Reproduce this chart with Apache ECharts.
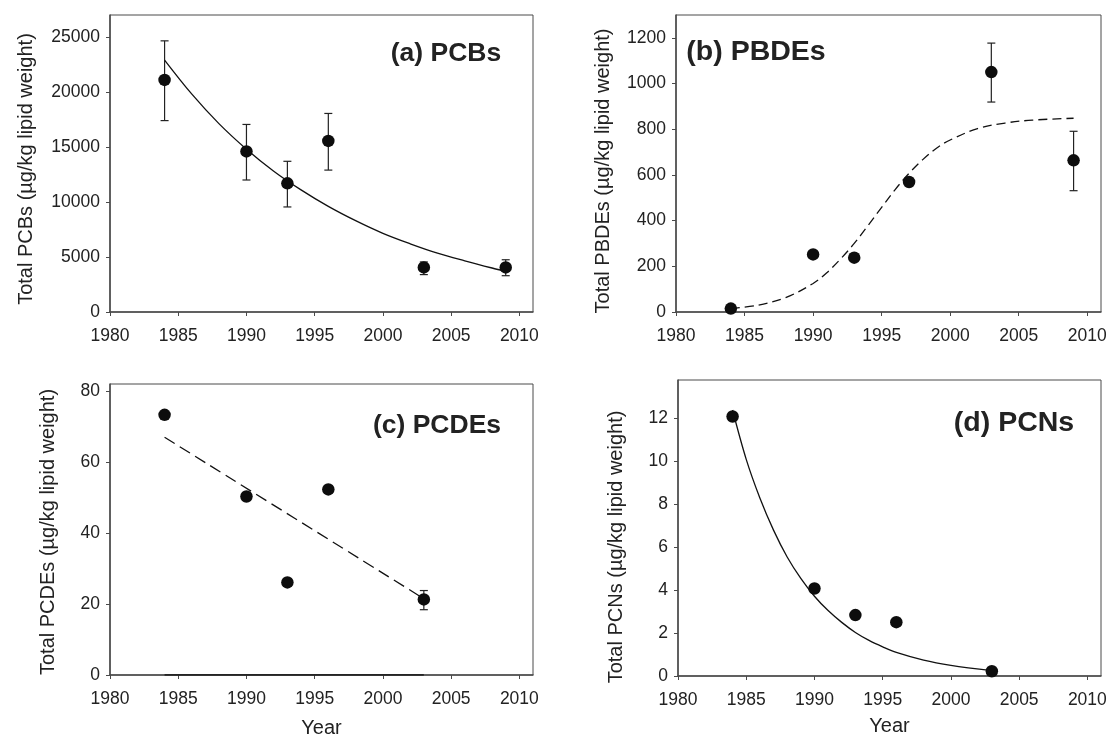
<!DOCTYPE html>
<html>
<head>
<meta charset="utf-8">
<script src="https://cdn.jsdelivr.net/npm/echarts@6/dist/echarts.min.js"></script>
<style>
html,body{margin:0;padding:0;background:#fff;}
#chart{width:1114px;height:739px;}
</style>
</head>
<body>
<div id="chart"></div>
<script>
// ---------- data ----------
const xTicks = [1980, 1985, 1990, 1995, 2000, 2005, 2010];

// (a) PCBs
const pcbYears = [1984, 1990, 1993, 1996, 2003, 2009];
const pcbMean  = [21100, 14600, 11700, 15550, 4050, 4050];
const pcbLow   = [17400, 12000, 9550, 12900, 3400, 3300];
const pcbHigh  = [24650, 17050, 13700, 18050, 4550, 4750];
const pcbFitYears = [1984, 1986, 1988, 1990, 1992, 1994, 1996, 1998, 2000, 2002, 2004, 2006, 2008, 2009];
const pcbFitVals  = [22900, 19800, 17100, 14800, 12800, 11100, 9600, 8300, 7150, 6200, 5350, 4650, 4000, 3700];
const pcbTicks = [0, 5000, 10000, 15000, 20000, 25000];

// (b) PBDEs
const pbdeYears = [1984, 1990, 1993, 1997, 2003, 2009];
const pbdeMean  = [15, 252, 238, 569, 1050, 664];
const pbdeErrYears = [2003, 2009];
const pbdeLow   = [919, 531];
const pbdeHigh  = [1177, 791];
const pbdeFitYears = [1984, 1986, 1988, 1990, 1991, 1992, 1993, 1994, 1995, 1996, 1997, 1998, 1999, 2000, 2002, 2004, 2006, 2009];
const pbdeFitVals  = [15, 30, 63, 125, 172, 232, 300, 378, 458, 537, 607, 667, 717, 753, 803, 827, 840, 848];
const pbdeTicks = [0, 200, 400, 600, 800, 1000, 1200];

// (c) PCDEs
const pcdeYears = [1984, 1990, 1993, 1996, 2003];
const pcdeMean  = [73.3, 50.3, 26.1, 52.3, 21.3];
const pcdeErrYears = [2003];
const pcdeLow   = [18.4];
const pcdeHigh  = [23.8];
const pcdeFitYears = [1984, 2003];
const pcdeFitVals  = [67, 21.5];
const pcdeZeroYears = [1984, 2003];
const pcdeZeroVals  = [0, 0];
const pcdeTicks = [0, 20, 40, 60, 80];

// (d) PCNs
const pcnYears = [1984, 1990, 1993, 1996, 2003];
const pcnMean  = [12.1, 4.08, 2.84, 2.51, 0.22];
const pcnErrYears = [2003];
const pcnLow   = [0.14];
const pcnHigh  = [0.3];
const pcnFitYears = [1984, 1985, 1986, 1987, 1988, 1989, 1990, 1991, 1992, 1993, 1994, 1995, 1996, 1998, 2000, 2003];
const pcnFitVals  = [12.4, 10.1, 8.3, 6.8, 5.55, 4.55, 3.72, 3.05, 2.5, 2.03, 1.66, 1.36, 1.1, 0.74, 0.5, 0.25];
const pcnTicks = [0, 2, 4, 6, 8, 10, 12];

const panelTitles = ['(a) PCBs', '(b) PBDEs', '(c) PCDEs', '(d) PCNs'];
const yNames = ['Total PCBs (\u00b5g/kg lipid weight)', 'Total PBDEs (\u00b5g/kg lipid weight)',
                'Total PCDEs (\u00b5g/kg lipid weight)', 'Total PCNs (\u00b5g/kg lipid weight)'];
const xName = 'Year';

// ---------- chart ----------
const FONT = "'Liberation Sans', Arial, sans-serif";
const TXT = '#222';
const AX = '#4a4a4a';

const zip = (a, b) => a.map((v, i) => [v, b[i]]);
const zip3 = (a, b, c) => a.map((v, i) => [v, b[i], c[i]]);

const grids = [
  {left: 110, top: 15, width: 423, height: 297},
  {left: 676, top: 15, width: 425, height: 297},
  {left: 110, top: 384, width: 423, height: 297},
  {left: 678, top: 380, width: 423, height: 296}
].map(g => Object.assign(g, {show: true, borderColor: AX, borderWidth: 1, backgroundColor: 'transparent'}));

function xAxisFor(i, withName, gap) {
  return {
    type: 'value', gridIndex: i, min: 1980, max: 2011,
    name: withName ? xName : '', nameLocation: 'middle', nameGap: gap || 40,
    nameTextStyle: {fontFamily: FONT, fontSize: 20, color: TXT},
    axisLine: {show: true, onZero: false, lineStyle: {color: AX, width: 1.5}},
    axisTick: {show: true, inside: false, length: 4, customValues: xTicks, lineStyle: {color: AX}},
    axisLabel: {customValues: xTicks, fontFamily: FONT, fontSize: 17.5, color: TXT, margin: 15, formatter: v => String(v)},
    splitLine: {show: false}
  };
}
function yAxisFor(i, max, ticks) {
  return {
    type: 'value', gridIndex: i, min: 0, max: max,
    axisLine: {show: true, onZero: false, lineStyle: {color: AX, width: 1.5}},
    axisTick: {show: true, inside: false, length: 4, customValues: ticks, lineStyle: {color: AX}},
    axisLabel: {customValues: ticks, fontFamily: FONT, fontSize: 17.5, color: TXT, margin: 10, formatter: v => String(v)},
    splitLine: {show: false}
  };
}

function errRender(params, api) {
  const x = api.value(0), lo = api.value(1), hi = api.value(2);
  const pLo = api.coord([x, lo]);
  const pHi = api.coord([x, hi]);
  const w = 4;
  const st = {stroke: '#222', lineWidth: 1.2};
  return {
    type: 'group',
    children: [
      {type: 'line', shape: {x1: pLo[0], y1: pLo[1], x2: pHi[0], y2: pHi[1]}, style: st},
      {type: 'line', shape: {x1: pLo[0] - w, y1: pLo[1], x2: pLo[0] + w, y2: pLo[1]}, style: st},
      {type: 'line', shape: {x1: pHi[0] - w, y1: pHi[1], x2: pHi[0] + w, y2: pHi[1]}, style: st}
    ]
  };
}

function errSeries(i, data) {
  return {type: 'custom', xAxisIndex: i, yAxisIndex: i, renderItem: errRender, data: data, z: 3, silent: true};
}
function dotSeries(i, data) {
  return {type: 'scatter', xAxisIndex: i, yAxisIndex: i, data: data, symbol: 'circle', symbolSize: 12.5,
          itemStyle: {color: '#0d0d0d', opacity: 1}, z: 5, silent: true};
}
function fitSeries(i, data, dash) {
  return {type: 'line', xAxisIndex: i, yAxisIndex: i, data: data, smooth: 0.35, showSymbol: false,
          lineStyle: {color: '#111', width: 1.3, type: dash || 'solid'}, z: 4, silent: true};
}

const series = [
  errSeries(0, zip3(pcbYears, pcbLow, pcbHigh)),
  fitSeries(0, zip(pcbFitYears, pcbFitVals)),
  dotSeries(0, zip(pcbYears, pcbMean)),

  errSeries(1, zip3(pbdeErrYears, pbdeLow, pbdeHigh)),
  fitSeries(1, zip(pbdeFitYears, pbdeFitVals), [9, 5]),
  dotSeries(1, zip(pbdeYears, pbdeMean)),

  errSeries(2, zip3(pcdeErrYears, pcdeLow, pcdeHigh)),
  fitSeries(2, zip(pcdeFitYears, pcdeFitVals), [12, 6]),
  {type: 'line', xAxisIndex: 2, yAxisIndex: 2, data: zip(pcdeZeroYears, pcdeZeroVals), showSymbol: false,
   lineStyle: {color: '#111', width: 1.6}, z: 4, silent: true},
  dotSeries(2, zip(pcdeYears, pcdeMean)),

  errSeries(3, zip3(pcnErrYears, pcnLow, pcnHigh)),
  fitSeries(3, zip(pcnFitYears, pcnFitVals)),
  dotSeries(3, zip(pcnYears, pcnMean))
];

const titlePos = [[446, 54], [756, 52], [437, 426], [1014, 423]];
const titleSize = [26.5, 28.5, 26.5, 28.5];
const namePos = [[26, 169], [603, 171], [48, 532], [616, 547]];

const graphics = [];
panelTitles.forEach((t, i) => {
  graphics.push({type: 'text', x: titlePos[i][0], y: titlePos[i][1], silent: true,
    style: {text: t, fontFamily: FONT, fontSize: titleSize[i], fontWeight: 'bold', fill: TXT,
            align: 'center', verticalAlign: 'middle'}});
});
yNames.forEach((t, i) => {
  graphics.push({type: 'text', x: namePos[i][0], y: namePos[i][1], rotation: Math.PI / 2, silent: true,
    style: {text: t, fontFamily: FONT, fontSize: 20, fill: TXT, align: 'center', verticalAlign: 'middle'}});
});

const chart = echarts.init(document.getElementById('chart'), null, {renderer: 'canvas'});
chart.setOption({
  animation: false,
  backgroundColor: '#fff',
  grid: grids,
  xAxis: [xAxisFor(0, false), xAxisFor(1, false), xAxisFor(2, true, 43), xAxisFor(3, true, 40)],
  yAxis: [yAxisFor(0, 27000, pcbTicks), yAxisFor(1, 1300, pbdeTicks), yAxisFor(2, 82, pcdeTicks), yAxisFor(3, 13.8, pcnTicks)],
  series: series,
  graphic: graphics
});
</script>
</body>
</html>
